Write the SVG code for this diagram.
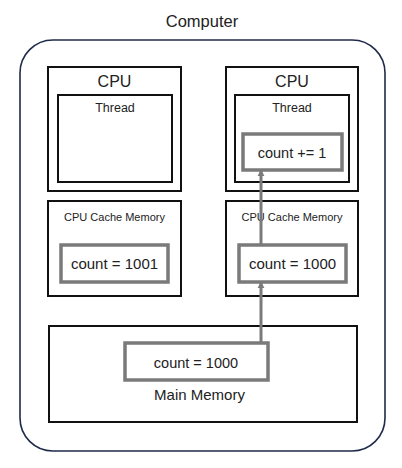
<svg xmlns="http://www.w3.org/2000/svg" width="402" height="468" viewBox="0 0 402 468">
<defs>
<style>
text{font-family:"Liberation Sans","Noto Sans",Arial,sans-serif;fill:#222;text-anchor:middle}
.box{fill:#fff;stroke:#111;stroke-width:2}
.val{fill:#fff;stroke:#7a7a7a;stroke-width:3.5}
.conn{stroke:#7a7a7a;stroke-width:3;fill:none}
</style>
<marker id="ah" viewBox="0 0 10 10" refX="9" refY="5" markerWidth="2.4" markerHeight="2.4" orient="auto" markerUnits="strokeWidth">
<path d="M0,0 L10,5 L0,10 z" fill="#7a7a7a"/>
</marker>
</defs>
<rect width="402" height="468" fill="#fff"/>
<g id="computer">
<text x="202" y="27" font-size="16.5">Computer</text>
<rect x="20" y="40" width="365" height="411" rx="33" ry="33" fill="none" stroke="#1f2b4a" stroke-width="1.6"/>
</g>
<g id="cpu1">
<rect class="box" x="48" y="67" width="133" height="124"/>
<text x="114.5" y="87" font-size="16">CPU</text>
</g>
<g id="thread1">
<rect class="box" x="58" y="95" width="114" height="87"/>
<text x="115" y="112" font-size="12.5">Thread</text>
</g>
<g id="cpu2">
<rect class="box" x="226" y="67" width="132" height="124"/>
<text x="292" y="87" font-size="16">CPU</text>
</g>
<g id="thread2">
<rect class="box" x="235" y="95" width="114" height="87"/>
<text x="292" y="112" font-size="12.5">Thread</text>
</g>
<g id="count-inc">
<rect class="val" x="243" y="134" width="99" height="36"/>
<text x="292" y="158" font-size="14.5">count += 1</text>
</g>
<g id="cache1">
<rect class="box" x="48" y="201" width="133" height="95"/>
<text x="114.5" y="221" font-size="11">CPU Cache Memory</text>
</g>
<g id="cache1-val">
<rect class="val" x="61" y="245" width="107" height="37"/>
<text x="114.5" y="268.5" font-size="15">count = 1001</text>
</g>
<g id="cache2">
<rect class="box" x="226" y="201" width="132" height="95"/>
<text x="292" y="221" font-size="11">CPU Cache Memory</text>
</g>
<g id="main">
<rect class="box" x="49" y="326" width="308" height="96"/>
<text x="199.5" y="400" font-size="15">Main Memory</text>
</g>
<g id="connectors">
<line class="conn" x1="261" y1="343" x2="261" y2="282" marker-end="url(#ah)"/>
<line class="conn" x1="261" y1="245" x2="261" y2="170" marker-end="url(#ah)"/>
</g>
<g id="cache2-val">
<rect class="val" x="239" y="245" width="107" height="37"/>
<text x="292.5" y="268.5" font-size="15">count = 1000</text>
</g>
<g id="main-val">
<rect class="val" x="125" y="343" width="143" height="37"/>
<text x="196" y="368" font-size="14.5">count = 1000</text>
</g>
</svg>
